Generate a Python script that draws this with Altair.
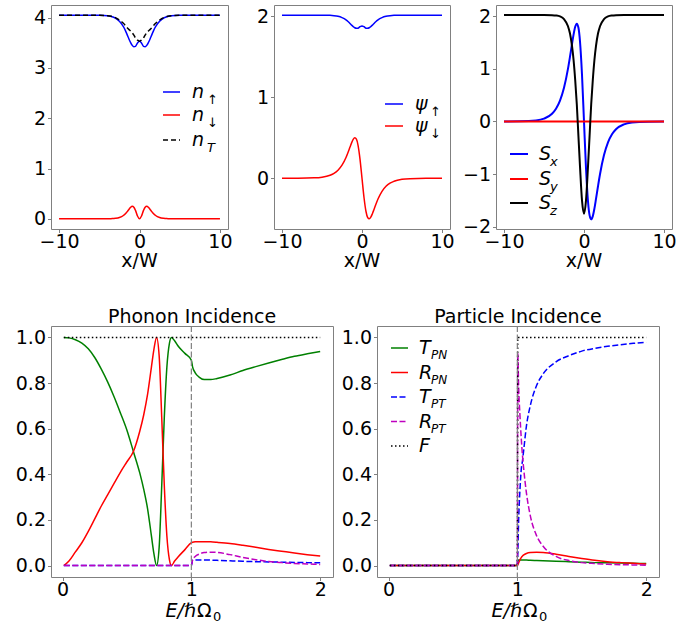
import altair as alt
import pandas as pd

FONT = "DejaVu Sans"
FS = 19  # tick / title font size

# ---------------- soliton profiles vs x/W ----------------
x_w = [-10, -8, -6, -5, -4, -3.5, -3, -2.5, -2, -1.75, -1.5, -1.3, -1.1, -0.9, -0.7, -0.5, -0.25, 0,
       0.25, 0.5, 0.7, 0.9, 1.1, 1.3, 1.5, 1.75, 2, 2.5, 3, 3.5, 4, 5, 6, 8, 10]

n_up = [4.05, 4.05, 4.05, 4.048, 4.04, 4.024, 3.992, 3.928, 3.822, 3.744, 3.648, 3.572, 3.504, 3.449, 3.423, 3.43, 3.497, 3.534,
        3.497, 3.43, 3.423, 3.449, 3.504, 3.572, 3.648, 3.744, 3.822, 3.928, 3.992, 4.024, 4.04, 4.048, 4.05, 4.05, 4.05]
n_dn = [0, 0, 0, 0.0002, 0.0013, 0.0036, 0.0098, 0.026, 0.066, 0.101, 0.148, 0.191, 0.230, 0.250, 0.232, 0.168, 0.056, 0,
        0.056, 0.168, 0.232, 0.250, 0.230, 0.191, 0.148, 0.101, 0.066, 0.026, 0.0098, 0.0036, 0.0013, 0.0002, 0, 0, 0]
n_tot = [4.05, 4.05, 4.05, 4.048, 4.041, 4.028, 4.002, 3.954, 3.888, 3.845, 3.796, 3.763, 3.734, 3.699, 3.655, 3.598, 3.553, 3.534,
         3.553, 3.598, 3.655, 3.699, 3.734, 3.763, 3.796, 3.845, 3.888, 3.954, 4.002, 4.028, 4.041, 4.048, 4.05, 4.05, 4.05]

psi_up = [2.012, 2.012, 2.012, 2.012, 2.01, 2.006, 1.998, 1.982, 1.955, 1.935, 1.91, 1.89, 1.872, 1.857, 1.85, 1.852, 1.87, 1.88,
          1.87, 1.852, 1.85, 1.857, 1.872, 1.89, 1.91, 1.935, 1.955, 1.982, 1.998, 2.006, 2.01, 2.012, 2.012, 2.012, 2.012]
psi_dn = [0, 0.0007, 0.005, 0.0135, 0.037, 0.060, 0.099, 0.161, 0.256, 0.318, 0.385, 0.437, 0.480, 0.500, 0.482, 0.410, 0.237, 0,
          -0.237, -0.410, -0.482, -0.500, -0.480, -0.437, -0.385, -0.318, -0.256, -0.161, -0.099, -0.060, -0.037, -0.0135, -0.005, -0.0007, 0]

s_x = [0, 0.003, 0.02, 0.054, 0.147, 0.242, 0.395, 0.638, 1.002, 1.229, 1.470, 1.653, 1.796, 1.856, 1.782, 1.518, 0.888, 0,
       -0.888, -1.518, -1.782, -1.856, -1.796, -1.653, -1.470, -1.229, -1.002, -0.638, -0.395, -0.242, -0.147, -0.054, -0.02, -0.003, 0]
s_y = [0] * 35
s_z = [2.02, 2.02, 2.02, 2.02, 2.017, 2.011, 1.993, 1.943, 1.806, 1.668, 1.433, 1.162, 0.787, 0.326, -0.266, -0.851, -1.498, -1.75,
       -1.498, -0.851, -0.266, 0.326, 0.787, 1.162, 1.433, 1.668, 1.806, 1.943, 1.993, 2.011, 2.017, 2.02, 2.02, 2.02, 2.02]

# ---------------- phonon incidence vs E/hbar Omega_0 ----------------
e_ph = [0.01, 0.05, 0.1, 0.15, 0.2, 0.25, 0.3, 0.35, 0.4, 0.45, 0.5, 0.55, 0.6, 0.63, 0.66, 0.69, 0.71, 0.73,
        0.75, 0.77, 0.79, 0.81, 0.83, 0.845, 0.87, 0.9, 0.95, 1.0, 1.01, 1.03, 1.06, 1.1, 1.15, 1.2, 1.3, 1.4,
        1.5, 1.6, 1.7, 1.8, 1.9, 2.0]
ph_t_pn = [1.0, 0.998, 0.99, 0.975, 0.95, 0.912, 0.862, 0.805, 0.74, 0.668, 0.593, 0.5, 0.405, 0.335, 0.25, 0.13, 0.05, 0.0,
           0.08, 0.35, 0.65, 0.87, 0.975, 1.0, 0.985, 0.96, 0.93, 0.90, 0.87, 0.845, 0.826, 0.815, 0.815, 0.82, 0.835, 0.855,
           0.872, 0.888, 0.903, 0.917, 0.928, 0.938]
ph_r_pn = [0.0, 0.02, 0.06, 0.1, 0.15, 0.205, 0.26, 0.31, 0.36, 0.41, 0.455, 0.5, 0.59, 0.66, 0.75, 0.87, 0.95, 1.0,
           0.92, 0.65, 0.35, 0.13, 0.025, 0.0, 0.02, 0.04, 0.07, 0.10, 0.102, 0.104, 0.105, 0.105, 0.104, 0.102, 0.097, 0.089,
           0.08, 0.071, 0.063, 0.055, 0.048, 0.042]
ph_t_pt = [0.0] * 28 + [0.024, 0.025, 0.025, 0.025, 0.024, 0.023, 0.021, 0.019, 0.017, 0.016, 0.015, 0.014, 0.013, 0.012]
ph_r_pt = [0.0] * 28 + [0.025, 0.04, 0.05, 0.057, 0.059, 0.058, 0.048, 0.036, 0.026, 0.018, 0.013, 0.009, 0.007, 0.005]
ph_f = [1.0] * 42

# ---------------- particle incidence ----------------
e_pa = [0.01, 0.5, 0.99, 1.0, 1.003, 1.01, 1.02, 1.03, 1.04, 1.05, 1.07, 1.1, 1.15, 1.2, 1.3, 1.4, 1.5, 1.6, 1.7, 1.8, 1.9, 2.0]
pa_t_pn = [0, 0, 0, 0, 0.02, 0.025, 0.025, 0.025, 0.024, 0.024, 0.024, 0.023, 0.022, 0.021, 0.019, 0.017, 0.015, 0.013, 0.012, 0.011, 0.010, 0.009]
pa_r_pn = [0, 0, 0, 0, 0.003, 0.012, 0.025, 0.035, 0.042, 0.047, 0.053, 0.057, 0.058, 0.057, 0.05, 0.04, 0.031, 0.023, 0.017, 0.013, 0.01, 0.007]
pa_t_pt = [0, 0, 0, 0, 0.05, 0.2, 0.33, 0.42, 0.46, 0.51, 0.61, 0.70, 0.79, 0.84, 0.893, 0.92, 0.94, 0.952, 0.961, 0.968, 0.974, 0.979]
pa_r_pt = [0, 0, 0, 0, 0.93, 0.78, 0.66, 0.56, 0.48, 0.42, 0.32, 0.22, 0.13, 0.085, 0.04, 0.022, 0.013, 0.009, 0.006, 0.004, 0.003, 0.002]
pa_f = [0, 0, 0, 0] + [1.0] * 18

GREEN, RED, BLUE, MAG, BLACK = "#008000", "#ff0000", "#0000ff", "#bf00bf", "#000000"
DASH = [6, 2.5]
DOT = [1.5, 2.5]

prof = pd.DataFrame({"x": x_w, "n_up": n_up, "n_dn": n_dn, "n_tot": n_tot,
                     "psi_up": psi_up, "psi_dn": psi_dn, "s_x": s_x, "s_y": s_y, "s_z": s_z})
phon = pd.DataFrame({"E": e_ph, "t_pn": ph_t_pn, "r_pn": ph_r_pn, "t_pt": ph_t_pt, "r_pt": ph_r_pt, "f": ph_f})
part = pd.DataFrame({"E": e_pa, "t_pn": pa_t_pn, "r_pn": pa_r_pn, "t_pt": pa_t_pt, "r_pt": pa_r_pt, "f": pa_f})

ONE = alt.Data(values=[{"k": 0}])


def curve(df, xenc, yfield, ydom, yaxis, color, width, dash=None):
    kw = dict(color=color, strokeWidth=width, interpolate="monotone")
    if dash:
        kw["strokeDash"] = dash
    return alt.Chart(df).mark_line(**kw).encode(
        x=xenc,
        y=alt.Y(f"{yfield}:Q", scale=alt.Scale(domain=ydom, nice=False, zero=False), axis=yaxis, title=None),
    )


def text_at(x, y, s, size=FS, italic=False, align="left"):
    return alt.Chart(ONE).mark_text(
        align=align, baseline="alphabetic", font=FONT, fontSize=size,
        fontStyle="italic" if italic else "normal", color="black",
    ).encode(x=alt.value(x), y=alt.value(y), text=alt.value(s))


def legend(entries, x0, x1, tx, sx, rows, sub_dy=6, sub_size=13):
    layers = []
    for (main, sub, sub_italic, color, dash, width), ry in zip(entries, rows):
        kw = dict(color=color, strokeWidth=width)
        if dash:
            kw["strokeDash"] = dash
        layers.append(alt.Chart(ONE).mark_rule(**kw).encode(
            x=alt.value(x0), x2=alt.value(x1), y=alt.value(ry)))
        layers.append(text_at(tx, ry + 6, main, italic=True))
        if sub:
            layers.append(text_at(sx, ry + 6 + sub_dy, sub, size=sub_size, italic=sub_italic))
    return layers


def x_prof():
    return alt.X("x:Q", scale=alt.Scale(domain=[-11, 11], nice=False),
                 axis=alt.Axis(values=[-10, 0, 10], format="d", title=None))


def xw_title(width):
    return text_at(width / 2, 262, "x/W", align="center")


def y_axis(vals, fmt, ext):
    return alt.Axis(values=vals, format=fmt, minExtent=ext, maxExtent=ext)


# top-left: densities
d1 = [-0.2025, 4.2525]
ax1 = y_axis([0, 1, 2, 3, 4], "d", 34)
p1 = alt.layer(
    curve(prof, x_prof(), "n_up", d1, ax1, BLUE, 1.5),
    curve(prof, x_prof(), "n_dn", d1, ax1, RED, 1.5),
    curve(prof, x_prof(), "n_tot", d1, ax1, BLACK, 1.5, [5, 3]),
    xw_title(177),
    *legend([("n", "↑", False, BLUE, None, 1.5), ("n", "↓", False, RED, None, 1.5),
             ("n", "T", True, BLACK, [5, 3], 1.5)],
            112, 129, 141, 156, [87, 110, 135]),
).properties(width=177, height=224)

# top-middle: wavefunctions
d2 = [-0.626, 2.138]
ax2 = y_axis([0, 1, 2], "d", 30)
p2 = alt.layer(
    curve(prof, x_prof(), "psi_up", d2, ax2, BLUE, 1.5),
    curve(prof, x_prof(), "psi_dn", d2, ax2, RED, 1.5),
    xw_title(176),
    *legend([("ψ", "↑", False, BLUE, None, 1.5), ("ψ", "↓", False, RED, None, 1.5)],
            111, 129, 141, 156, [99, 121]),
).properties(width=176, height=224)

# top-right: spin components
d3 = [-2.04, 2.21]
ax3 = y_axis([-2, -1, 0, 1, 2], "d", 30)
p3 = alt.layer(
    curve(prof, x_prof(), "s_x", d3, ax3, BLUE, 2),
    curve(prof, x_prof(), "s_y", d3, ax3, RED, 2),
    curve(prof, x_prof(), "s_z", d3, ax3, BLACK, 2),
    xw_title(176),
    *legend([("S", "x", True, BLUE, None, 2), ("S", "y", True, RED, None, 2), ("S", "z", True, BLACK, None, 2)],
            14, 32, 43, 54, [149, 174, 198]),
).properties(width=176, height=224)


def x_energy():
    return alt.X("E:Q", scale=alt.Scale(domain=[-0.0895, 2.0995], nice=False),
                 axis=alt.Axis(values=[0, 1, 2], format="d", title=None))


def energy_title():
    return [
        text_at(145, 291, "E/ℏ", italic=True, align="right"),
        text_at(146, 291, "Ω"),
        text_at(162, 295, "0", size=13),
    ]


def threshold():
    return alt.Chart(alt.Data(values=[{"E": 1.0}])).mark_rule(
        color="#808080", strokeWidth=1.2, strokeDash=[6, 2.5]).encode(x="E:Q")


dy = [-0.05, 1.05]
tick01 = [0, 0.2, 0.4, 0.6, 0.8, 1.0]


def energy_panel(df, title, ext, with_legend):
    ax = y_axis(tick01, ".1f", ext)
    layers = [
        curve(df, x_energy(), "t_pn", dy, ax, GREEN, 1.5),
        curve(df, x_energy(), "r_pn", dy, ax, RED, 1.5),
        curve(df, x_energy(), "t_pt", dy, ax, BLUE, 1.5, DASH),
        curve(df, x_energy(), "r_pt", dy, ax, MAG, 1.5, DASH),
        curve(df, x_energy(), "f", dy, ax, BLACK, 1.5, DOT),
        threshold(),
        *energy_title(),
    ]
    if with_legend:
        layers += legend([("T", "PN", True, GREEN, None, 1.5), ("R", "PN", True, RED, None, 1.5),
                          ("T", "PT", True, BLUE, DASH, 1.5), ("R", "PT", True, MAG, DASH, 1.5),
                          ("F", "", True, BLACK, DOT, 1.5)],
                         14, 31, 42, 54, [22, 46.5, 71, 95.5, 120], sub_dy=5, sub_size=12)
    return alt.layer(*layers).properties(
        width=282, height=251,
        title=alt.TitleParams(title, font=FONT, fontSize=FS, fontWeight="normal", offset=-2))


p4 = energy_panel(phon, "Phonon Incidence", 50, False)
p5 = energy_panel(part, "Particle Incidence", 40, True)

top = alt.hconcat(p1, p2, p3, spacing=46, bounds="flush")
bottom = alt.hconcat(p4, p5, spacing=44, bounds="flush")

chart = alt.vconcat(top, bottom, spacing=35).properties(
    padding={"left": 0, "top": 4, "right": 0, "bottom": 0}
).configure_axis(
    labelFont=FONT, labelFontSize=FS, labelColor="black", tickColor="#808080", tickSize=3.5,
    domain=False, grid=False, titleFont=FONT, titleFontSize=FS,
    titleFontWeight="normal", titleColor="black",
).configure_axisX(labelPadding=0).configure_axisY(labelPadding=2).configure_view(
    stroke="#808080", strokeWidth=1)

chart.save("out.html", embed_options={"renderer": "svg", "actions": False})
